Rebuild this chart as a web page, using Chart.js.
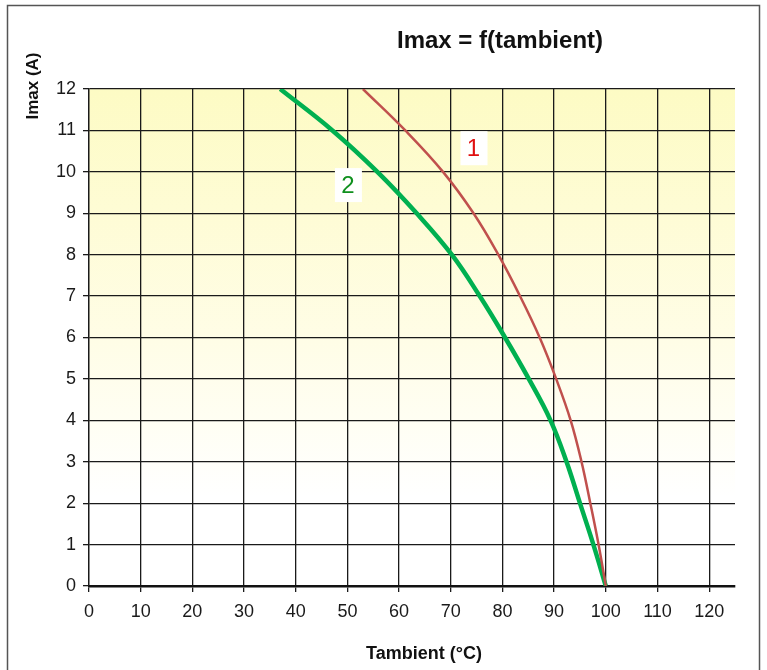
<!DOCTYPE html>
<html>
<head>
<meta charset="utf-8">
<script src="https://cdn.jsdelivr.net/npm/chart.js@4"></script>
<style>
body { margin: 0; background: #fff; }
#wrap { position: relative; width: 767px; height: 670px; }
</style>
</head>
<body>
<div id="wrap"><canvas id="chart" width="767" height="670"></canvas></div>
<script>
// current levels shared by both curves (A)
var imaxLevels = [12, 11, 10, 9, 8, 7, 6, 5, 4, 3, 2, 1, 0];
// ambient temperature at each level (°C)
var curve1Temps = [53, 61.2, 68.5, 74.4, 79.2, 83.4, 87.2, 90.4, 93.2, 95.3, 97, 98.6, 100];
var curve2Temps = [37, 47.1, 55.8, 63.4, 70.2, 75.6, 80.5, 85.1, 89.3, 92.4, 95, 97.6, 100];
var xTicks = [0, 10, 20, 30, 40, 50, 60, 70, 80, 90, 100, 110, 120];
var yTicks = [0, 1, 2, 3, 4, 5, 6, 7, 8, 9, 10, 11, 12];
var curveLabels = ['1', '2'];
var labelTemps = [74.4, 50.1];
var labelImax = [10.57, 9.68];

function toPoints(temps, levels)
{
	var pts = [];
	for (var i = 0; i < temps.length; i++)
	{
		pts.push({x: temps[i], y: levels[i]});
	}
	return pts;
}

var decorPlugin = {
	id: 'decor',
	beforeDraw: function(chart) {
		var ctx = chart.ctx;
		var area = chart.chartArea;
		ctx.save();
		ctx.fillStyle = '#fff';
		ctx.fillRect(0, 0, chart.width, chart.height);
		ctx.strokeStyle = '#555';
		ctx.lineWidth = 1.5;
		ctx.strokeRect(7.5, 5.5, 752, 720);
		var grad = ctx.createLinearGradient(0, area.top, 0, area.bottom);
		grad.addColorStop(0, '#fdfbc4');
		grad.addColorStop(0.5, '#fffde6');
		grad.addColorStop(0.82, '#ffffff');
		ctx.fillStyle = grad;
		ctx.fillRect(area.left, area.top, area.right - area.left, area.bottom - area.top);
		ctx.restore();
	},
	afterDraw: function(chart) {
		var ctx = chart.ctx;
		var xs = chart.scales.x, ys = chart.scales.y;
		ctx.save();
		// curve labels in white boxes
		var colors = ['#e01010', '#10901e'];
		ctx.font = '24px "Liberation Sans", Arial, sans-serif';
		ctx.textAlign = 'center';
		ctx.textBaseline = 'middle';
		for (var i = 0; i < curveLabels.length; i++)
		{
			var px = xs.getPixelForValue(labelTemps[i]);
			var py = ys.getPixelForValue(labelImax[i]);
			ctx.fillStyle = '#fff';
			ctx.fillRect(px - 13, py - 17, 27, 34);
			ctx.fillStyle = colors[i];
			ctx.fillText(curveLabels[i], px, py + 1);
		}
		// main title
		ctx.fillStyle = '#111';
		ctx.font = 'bold 24px "Liberation Sans", Arial, sans-serif';
		ctx.fillText('Imax = f(tambient)', 500, 41);
		// x axis title
		ctx.font = 'bold 18px "Liberation Sans", Arial, sans-serif';
		ctx.fillText('Tambient (°C)', 424, 654);
		// y axis title
		ctx.translate(33, 86);
		ctx.rotate(-Math.PI / 2);
		ctx.font = 'bold 17px "Liberation Sans", Arial, sans-serif';
		ctx.fillText('Imax (A)', 0, 0);
		ctx.restore();
	}
};

var ctx = document.getElementById('chart');
var chart = new Chart(ctx, {
	type: 'scatter',
	data: {
		datasets: [{
			label: '1',
			data: toPoints(curve1Temps, imaxLevels),
			showLine: true,
			borderColor: '#c0504d',
			borderWidth: 2.5,
			pointRadius: 0,
			tension: 0.4
		}, {
			label: '2',
			data: toPoints(curve2Temps, imaxLevels),
			showLine: true,
			borderColor: '#00b050',
			borderWidth: 4.5,
			pointRadius: 0,
			tension: 0.4
		}]
	},
	options: {
		responsive: false,
		maintainAspectRatio: false,
		animation: false,
		layout: { padding: { top: 89, right: 32, left: 0, bottom: 0 } },
		plugins: {
			legend: { display: false },
			title: { display: false },
			tooltip: { enabled: false }
		},
		scales: {
			x: {
				type: 'linear',
				min: 0,
				max: 125,
				afterBuildTicks: function(scale) {
					scale.ticks = xTicks.map(function(v) { return {value: v}; });
				},
				afterFit: function(scale) { scale.height = 84; },
				grid: {
					color: '#1a1a1a',
					lineWidth: 1.3,
					tickLength: 6,
					tickColor: '#1a1a1a'
				},
				border: { color: '#111', width: 2.5 },
				ticks: {
					color: '#1a1a1a',
					padding: 9,
					font: { family: '"Liberation Sans", Arial, sans-serif', size: 18 }
				}
			},
			y: {
				type: 'linear',
				min: 0,
				max: 12,
				afterBuildTicks: function(scale) {
					scale.ticks = yTicks.map(function(v) { return {value: v}; });
				},
				afterFit: function(scale) { scale.width = 89; },
				grid: {
					color: '#1a1a1a',
					lineWidth: 1.3,
					tickLength: 6,
					tickColor: '#1a1a1a'
				},
				border: { color: '#1a1a1a', width: 1.3 },
				ticks: {
					color: '#1a1a1a',
					padding: 7,
					font: { family: '"Liberation Sans", Arial, sans-serif', size: 18 }
				}
			}
		}
	},
	plugins: [decorPlugin]
});
</script>
</body>
</html>
